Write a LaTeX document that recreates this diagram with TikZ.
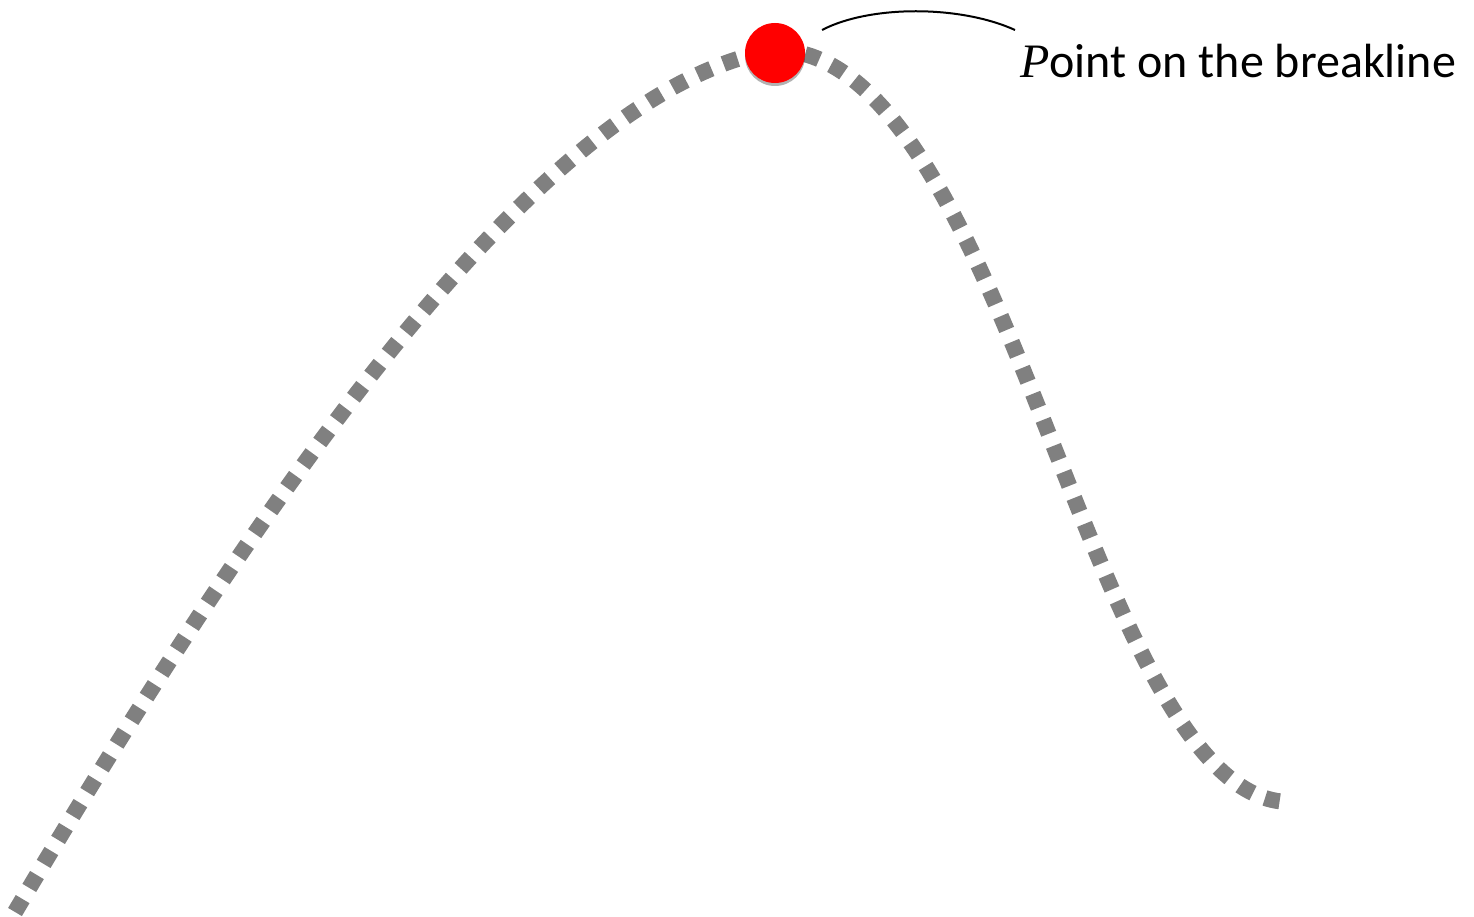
\documentclass[tikz,border=0pt]{standalone}
\usepackage{fontspec}
\setmainfont{Carlito}
\newfontfamily\pfont{Liberation Serif}
\usetikzlibrary{shadows}
\definecolor{dashgray}{RGB}{128,128,128}
\definecolor{dotred}{RGB}{255,0,0}
\tikzset{
  breakline/.style={draw=dashgray, line width=16pt, dash pattern=on 15pt off 13pt},
  reddot/.style={circle, fill=dotred, minimum size=60pt, inner sep=0pt,
    drop shadow={shadow xshift=0pt, shadow yshift=-3pt, opacity=0.3, fill=black}},
  leader/.style={draw=black, line width=2pt},
  lbl/.style={font=\fontsize{48}{54}\selectfont, inner sep=0pt}
}
\begin{document}
\begin{tikzpicture}[x=1pt,y=-1pt]
\useasboundingbox (0,0) rectangle (1474,917);
\coordinate (s) at (15,912);
\coordinate (top) at (775,50);
\coordinate (e) at (1290,802);
\draw[breakline] (s) .. controls (300,430) and (560,85) .. (top)
  .. controls (1010,50) and (1090,802) .. (e);
\node[reddot] (p) at (775,53) {};
\node[lbl, anchor=base west] (t) at (1020,78) {{\pfont\itshape P}oint on the breakline};
\coordinate (l1) at (822,30);
\coordinate (l2) at (1015,30);
\draw[leader] (l1) .. controls (870,5) and (960,5) .. (l2);
\end{tikzpicture}
\end{document}
